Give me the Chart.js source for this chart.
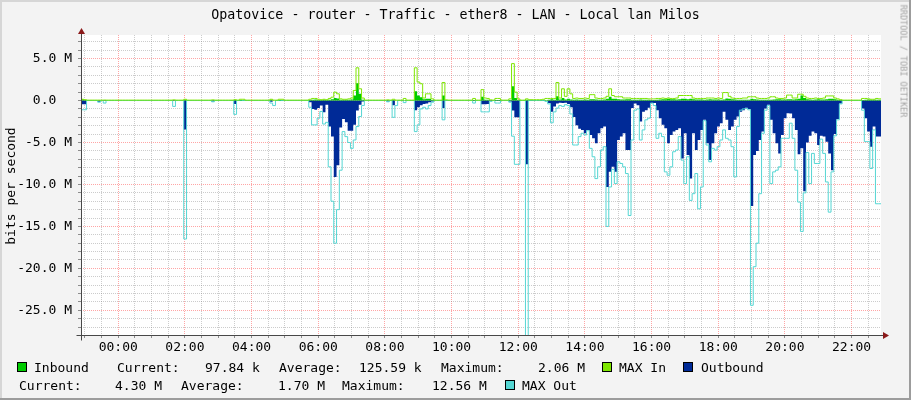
<!DOCTYPE html>
<html>
<head>
<meta charset="utf-8">
<title>Opatovice - router - Traffic - ether8</title>
<script src="https://cdn.jsdelivr.net/npm/chart.js@4.4.1/dist/chart.umd.min.js"></script>
<style>
  body { margin: 0; background: #f3f3f3; }
  #wrap { position: relative; width: 911px; height: 400px; overflow: hidden; background: #f3f3f3;
          font-family: "DejaVu Sans Mono", monospace; color: #000; }
  #c { position: absolute; left: 0; top: 0; }
  .t { position: absolute; font-size: 13px; line-height: 13px; white-space: pre; }
  .sw { position: absolute; width: 8px; height: 8px; border: 1px solid #000; }
  #title { position: absolute; left: 0; top: 8px; width: 911px; text-align: center; font-size: 13.3px; line-height: 13px; white-space: pre; }
  #ytitle { position: absolute; left: 10px; top: 186px; font-size: 13px; line-height: 13px; white-space: pre;
            transform: translate(-50%, -50%) rotate(-90deg); }
  #side { position: absolute; left: 903px; top: 61px; font-size: 8.5px; line-height: 9px; color: #a4a4a4; white-space: pre;
          transform: translate(-50%, -50%) rotate(90deg); }
  .bd { position: absolute; }
</style>
</head>
<body>
<div id="wrap">
  <canvas id="c" width="911" height="400"></canvas>
  <div class="bd" style="left:0;top:0;width:911px;height:2px;background:#d6d6d6"></div>
  <div class="bd" style="left:0;top:0;width:2px;height:400px;background:#d6d6d6"></div>
  <div class="bd" style="left:909px;top:0;width:2px;height:400px;background:#9c9c9c"></div>
  <div class="bd" style="left:0;top:398px;width:911px;height:2px;background:#9c9c9c"></div>
  <div id="title">Opatovice - router - Traffic - ether8 - LAN - Local lan Milos</div>
  <div id="ytitle">bits per second</div>
  <div id="side">RRDTOOL / TOBI OETIKER</div>

  <div class="sw" style="left:17px;top:362px;background:#00cc00"></div>
  <div class="t" style="left:34px;top:361px">Inbound</div>
  <div class="t" style="left:117px;top:361px">Current:</div>
  <div class="t" style="left:205px;top:361px">97.84 k</div>
  <div class="t" style="left:279px;top:361px">Average:</div>
  <div class="t" style="left:359px;top:361px">125.59 k</div>
  <div class="t" style="left:441px;top:361px">Maximum:</div>
  <div class="t" style="left:538px;top:361px">2.06 M</div>
  <div class="sw" style="left:602px;top:362px;background:#7ee600"></div>
  <div class="t" style="left:619px;top:361px">MAX In</div>
  <div class="sw" style="left:683px;top:362px;background:#002a97"></div>
  <div class="t" style="left:701px;top:361px">Outbound</div>

  <div class="t" style="left:19px;top:379px">Current:</div>
  <div class="t" style="left:115px;top:379px">4.30 M</div>
  <div class="t" style="left:181px;top:379px">Average:</div>
  <div class="t" style="left:278px;top:379px">1.70 M</div>
  <div class="t" style="left:342px;top:379px">Maximum:</div>
  <div class="t" style="left:432px;top:379px">12.56 M</div>
  <div class="sw" style="left:505px;top:380px;background:#55d6d3"></div>
  <div class="t" style="left:522px;top:379px">MAX Out</div>
</div>

<script>
// 5 minute samples, first one starts 22:53 the day before (hours relative to midnight)
const startHour = -67 / 60;
const stepHour = 5 / 60;

const xTickHours = [0, 2, 4, 6, 8, 10, 12, 14, 16, 18, 20, 22];
const xTickLabels = ['00:00', '02:00', '04:00', '06:00', '08:00', '10:00', '12:00', '14:00', '16:00', '18:00', '20:00', '22:00'];
const yTickValues = [5, 0, -5, -10, -15, -20, -25];
const yTickLabels = ['5.0 M', '0.0  ', '-5.0 M', '-10.0 M', '-15.0 M', '-20.0 M', '-25.0 M'];

// Mbit/s, one row per hour of samples
const inbound = [
  0.15, 0.05, 0.02, 0.02, 0.02, 0.02, 0.03, 0.02, 0.03, 0.02, 0.02, 0.02,
  0.02, 0.02, 0.02, 0.02, 0.02, 0.02, 0.02, 0.02, 0.02, 0.02, 0.02, 0.02,
  0.02, 0.02, 0.02, 0.02, 0.02, 0.02, 0.02, 0.02, 0.02, 0.04, 0.02, 0.02,
  0.02, 0.1, 0.02, 0.02, 0.02, 0.02, 0.02, 0.02, 0.02, 0.02, 0.02, 0.04,
  0.02, 0.02, 0.02, 0.02, 0.02, 0.02, 0.02, 0.06, 0.02, 0.05, 0.02, 0.02,
  0.02, 0.02, 0.02, 0.02, 0.02, 0.02, 0.02, 0.02, 0.08, 0.03, 0.02, 0.05,
  0.02, 0.02, 0.02, 0.02, 0.02, 0.02, 0.02, 0.02, 0.02, 0.02, 0.05, 0.1,
  0.12, 0.06, 0.05, 0.08, 0.05, 0.1, 0.15, 0.3, 0.25, 0.1, 0.08, 0.08,
  0.1, 0.12, 0.6, 2.06, 0.8, 0.1, 0.03, 0.02, 0.02, 0.02, 0.02, 0.02,
  0.02, 0.02, 0.04, 0.02, 0.06, 0.03, 0.02, 0.02, 0.05, 0.02, 0.02, 0.02,
  1.1, 0.6, 0.4, 0.15, 0.2, 0.2, 0.05, 0.02, 0.02, 0.02, 0.6, 0.03,
  0.02, 0.02, 0.02, 0.02, 0.02, 0.02, 0.02, 0.02, 0.02, 0.05, 0.02, 0.02,
  0.45, 0.1, 0.08, 0.03, 0.02, 0.05, 0.05, 0.02, 0.02, 0.02, 0.05, 1.7,
  0.3, 0.05, 0.02, 0.02, 0.08, 0.03, 0.03, 0.03, 0.03, 0.03, 0.04, 0.06,
  0.1, 0.15, 0.1, 0.5, 0.12, 0.3, 0.12, 0.2, 0.12, 0.1, 0.12, 0.1,
  0.1, 0.12, 0.1, 0.15, 0.15, 0.12, 0.1, 0.1, 0.12, 0.2, 0.45, 0.2,
  0.2, 0.15, 0.12, 0.12, 0.15, 0.15, 0.1, 0.08, 0.1, 0.12, 0.1, 0.1,
  0.08, 0.06, 0.06, 0.1, 0.12, 0.15, 0.15, 0.2, 0.15, 0.15, 0.12, 0.15,
  0.2, 0.2, 0.15, 0.2, 0.15, 0.12, 0.12, 0.12, 0.1, 0.12, 0.15, 0.12,
  0.12, 0.12, 0.1, 0.12, 0.25, 0.2, 0.15, 0.12, 0.1, 0.1, 0.08, 0.08,
  0.1, 0.2, 0.15, 0.12, 0.1, 0.08, 0.08, 0.08, 0.1, 0.12, 0.15, 0.15,
  0.12, 0.12, 0.15, 0.15, 0.12, 0.15, 0.2, 0.6, 0.3, 0.15, 0.12, 0.1,
  0.12, 0.15, 0.12, 0.12, 0.15, 0.2, 0.2, 0.15, 0.1, 0.05, 0.02, 0.02,
  0.02, 0.02, 0.02, 0.02, 0.02, 0.06, 0.1, 0.12, 0.1, 0.08, 0.1, 0.098
];

const maxIn = [
  0.15, 0.1, 0.05, 0.05, 0.05, 0.05, 0.05, 0.05, 0.06, 0.05, 0.05, 0.05,
  0.05, 0.05, 0.05, 0.05, 0.05, 0.05, 0.05, 0.05, 0.05, 0.05, 0.05, 0.05,
  0.05, 0.05, 0.05, 0.05, 0.05, 0.05, 0.05, 0.05, 0.05, 0.08, 0.05, 0.05,
  0.05, 0.15, 0.05, 0.05, 0.05, 0.05, 0.05, 0.05, 0.05, 0.05, 0.05, 0.08,
  0.05, 0.05, 0.05, 0.05, 0.05, 0.05, 0.05, 0.1, 0.05, 0.15, 0.15, 0.05,
  0.05, 0.05, 0.05, 0.05, 0.05, 0.05, 0.05, 0.05, 0.15, 0.05, 0.05, 0.15,
  0.15, 0.05, 0.05, 0.05, 0.05, 0.05, 0.05, 0.05, 0.05, 0.05, 0.15, 0.25,
  0.25, 0.15, 0.1, 0.15, 0.1, 0.25, 0.4, 1.0, 0.8, 0.2, 0.15, 0.15,
  0.2, 0.3, 1.2, 3.9, 1.4, 0.3, 0.05, 0.05, 0.05, 0.05, 0.05, 0.05,
  0.05, 0.05, 0.08, 0.05, 0.15, 0.05, 0.05, 0.05, 0.25, 0.05, 0.05, 0.05,
  3.9, 2.2, 2.0, 0.3, 0.8, 0.8, 0.2, 0.05, 0.05, 0.05, 2.15, 0.08,
  0.05, 0.05, 0.05, 0.05, 0.05, 0.05, 0.05, 0.05, 0.05, 0.25, 0.05, 0.05,
  1.3, 0.3, 0.25, 0.08, 0.05, 0.25, 0.25, 0.05, 0.05, 0.05, 0.2, 4.4,
  1.0, 0.2, 0.05, 0.05, 0.2, 0.1, 0.1, 0.1, 0.1, 0.1, 0.15, 0.25,
  0.25, 0.25, 0.25, 2.15, 0.3, 1.4, 0.5, 1.4, 0.8, 0.25, 0.3, 0.25,
  0.25, 0.3, 0.25, 0.7, 0.7, 0.3, 0.25, 0.25, 0.3, 0.5, 1.4, 0.6,
  0.45, 0.45, 0.45, 0.3, 0.3, 0.3, 0.25, 0.25, 0.25, 0.25, 0.25, 0.25,
  0.2, 0.2, 0.2, 0.25, 0.25, 0.3, 0.25, 0.3, 0.25, 0.25, 0.3, 0.6,
  0.6, 0.6, 0.6, 0.6, 0.3, 0.25, 0.25, 0.25, 0.25, 0.3, 0.3, 0.3,
  0.25, 0.3, 0.25, 0.95, 0.95, 0.5, 0.3, 0.25, 0.25, 0.25, 0.3, 0.3,
  0.45, 0.45, 0.45, 0.3, 0.25, 0.25, 0.25, 0.3, 0.45, 0.45, 0.3, 0.25,
  0.25, 0.3, 0.65, 0.65, 0.3, 0.3, 0.75, 0.75, 0.5, 0.3, 0.25, 0.25,
  0.3, 0.25, 0.25, 0.3, 0.55, 0.55, 0.55, 0.3, 0.2, 0.1, 0.05, 0.05,
  0.05, 0.05, 0.05, 0.05, 0.05, 0.25, 0.25, 0.2, 0.15, 0.15, 0.25, 0.2
];

const outbound = [
  0.45, 0.45, 0, 0, 0, 0, 0.15, 0, 0.05, 0, 0, 0,
  0, 0, 0, 0, 0, 0, 0, 0, 0, 0, 0, 0,
  0, 0, 0, 0, 0, 0, 0, 0, 0, 0.05, 0, 0,
  0, 3.45, 0, 0, 0, 0, 0, 0, 0, 0, 0, 0.1,
  0, 0, 0, 0, 0, 0, 0, 0.4, 0, 0, 0, 0,
  0, 0, 0, 0, 0, 0, 0, 0, 0.15, 0, 0, 0,
  0, 0, 0, 0, 0, 0, 0, 0, 0, 0, 0.2, 1.0,
  1.1, 0.9, 0.6, 1.4, 0.5, 3.1, 4.3, 9.1, 7.7, 3.2, 2.2, 2.6,
  3.6, 3.6, 2.9, 1.2, 0.5, 0.1, 0, 0, 0, 0, 0, 0,
  0, 0, 0.1, 0, 0.55, 0, 0, 0, 0, 0, 0, 0,
  1.15, 0.8, 0.55, 0.4, 0.35, 0.2, 0.1, 0, 0, 0, 0.9, 0,
  0, 0, 0, 0, 0, 0, 0, 0, 0, 0.05, 0, 0,
  0.45, 0.45, 0.4, 0.05, 0, 0.05, 0.05, 0, 0, 0, 0.1, 1.2,
  2.0, 2.0, 0, 0, 7.6, 0, 0, 0, 0, 0, 0, 0,
  0.3, 1.35, 0.7, 0.35, 0.25, 0.3, 0.25, 0.4, 0.8, 1.95, 2.95, 3.35,
  3.5, 3.9, 3.5, 4.1, 4.5, 5.1, 3.9, 3.3, 3.1, 10.3, 8.5, 7.9,
  8.5, 4.7, 4.3, 3.9, 5.9, 5.9, 0.9, 0.35, 0.55, 2.5, 1.35, 1.15,
  0.85, 0.3, 0.3, 1.15, 2.1, 2.9, 3.3, 5.1, 4.1, 3.7, 3.5, 3.3,
  6.9, 3.9, 6.5, 9.3, 3.9, 5.9, 4.7, 3.5, 2.3, 5.1, 7.1, 5.1,
  3.9, 3.1, 2.7, 1.35, 2.3, 3.5, 3.1, 2.3, 1.9, 1.35, 1.15, 0.85,
  1.0, 12.56, 6.5, 6.0, 4.7, 3.7, 0.95, 0.5, 2.3, 3.9, 5.1, 6.3,
  4.1, 2.1, 1.5, 1.55, 2.1, 3.5, 6.4, 5.7, 10.8, 5.0, 4.2, 3.7,
  3.9, 5.3, 4.2, 4.3, 4.9, 6.3, 8.3, 4.0, 2.2, 0.35, 0, 0,
  0, 0, 0, 0, 0, 0.95, 2.1, 3.7, 5.5, 3.1, 4.3, 4.3
];

const maxOut = [
  1.1, 1.1, 0, 0, 0, 0, 0.2, 0, 0.3, 0, 0, 0,
  0, 0, 0, 0, 0, 0, 0, 0, 0, 0, 0, 0,
  0, 0, 0, 0, 0, 0, 0, 0, 0, 0.7, 0, 0,
  0, 16.5, 0, 0, 0, 0, 0, 0, 0, 0, 0, 0.15,
  0, 0, 0, 0, 0, 0, 0, 1.65, 0, 0, 0, 0,
  0, 0, 0, 0, 0, 0, 0, 0, 0.3, 0.6, 0, 0,
  0, 0, 0, 0, 0, 0, 0, 0, 0, 0, 0.8, 2.9,
  2.9, 2.1, 1.3, 2.8, 2.6, 7.9, 12.0, 17.0, 13.0, 8.3, 3.7, 4.3,
  5.0, 5.7, 4.7, 3.1, 1.9, 0.6, 0, 0, 0, 0, 0, 0,
  0, 0, 0.15, 0, 2.0, 0.6, 0, 0, 0.25, 0, 0, 0,
  3.7, 2.9, 1.0, 0.8, 1.0, 0.6, 0.2, 0, 0, 0, 2.3, 0,
  0, 0, 0, 0, 0, 0, 0, 0, 0, 0.3, 0, 0,
  1.35, 1.35, 1.35, 0.1, 0, 0.3, 0.3, 0, 0, 0, 0.2, 4.25,
  7.6, 7.6, 0, 0, 32.0, 0, 0, 0, 0, 0, 0, 0.1,
  0.4, 2.65, 1.35, 0.9, 0.6, 0.7, 0.5, 0.6, 1.6, 5.3, 5.3, 4.3,
  3.9, 4.1, 3.6, 5.7, 6.7, 9.3, 7.9, 5.9, 5.5, 15.0, 10.3, 8.2,
  9.9, 7.3, 7.5, 7.9, 8.7, 13.7, 4.7, 1.15, 1.0, 4.7, 3.5, 2.3,
  2.1, 0.3, 0.6, 4.5, 3.9, 4.3, 8.5, 8.9, 7.9, 6.1, 5.9, 4.3,
  7.1, 9.9, 6.7, 11.9, 11.1, 8.7, 12.9, 10.3, 2.4, 5.3, 7.3, 5.7,
  5.9, 5.5, 4.7, 3.5, 4.5, 4.7, 5.5, 9.1, 3.1, 1.15, 1.0, 0.95,
  1.1, 24.4, 19.8, 17.0, 11.1, 3.9, 1.15, 0.6, 9.9, 8.5, 8.3, 7.9,
  4.5, 4.5, 4.5, 2.7, 4.5, 8.3, 12.1, 15.6, 11.0, 6.2, 9.9, 6.3,
  7.5, 7.5, 4.6, 6.3, 9.7, 13.3, 8.5, 4.2, 2.3, 0.4, 0, 0,
  0, 0, 0, 0, 0, 1.15, 4.9, 4.9, 8.1, 3.5, 12.3, 12.3
];

function points(values, sign) {
  const pts = values.map((v, i) => ({ x: startHour + i * stepHour, y: sign * v }));
  pts.push({ x: startHour + values.length * stepHour, y: sign * values[values.length - 1] });
  return pts;
}

const majorGrid = 'rgba(255, 40, 40, 0.42)';
const minorGrid = 'rgba(120, 120, 120, 0.38)';
const tickFont = { family: 'DejaVu Sans Mono', size: 13 };

const canvasBg = {
  id: 'canvasBg',
  beforeDraw(c) {
    const a = c.chartArea;
    c.ctx.save();
    c.ctx.fillStyle = '#ffffff';
    c.ctx.fillRect(a.left, a.top, a.right - a.left, a.bottom - a.top);
    c.ctx.restore();
  }
};

const rrdAxes = {
  id: 'rrdAxes',
  afterDraw(c) {
    const a = c.chartArea;
    const ctx = c.ctx;
    const x0 = Math.round(a.left) + 0.5;
    const y0 = Math.round(a.bottom) + 0.5;
    ctx.save();
    ctx.strokeStyle = '#484848';
    ctx.lineWidth = 1;
    ctx.beginPath();
    ctx.moveTo(x0, a.top - 4);
    ctx.lineTo(x0, y0 + 5);
    ctx.moveTo(x0 - 5, y0);
    ctx.lineTo(a.right + 4, y0);
    ctx.stroke();
    ctx.fillStyle = '#8b1a1a';
    ctx.beginPath();
    ctx.moveTo(x0 - 3.5, a.top - 1);
    ctx.lineTo(x0 + 3.5, a.top - 1);
    ctx.lineTo(x0, a.top - 7);
    ctx.closePath();
    ctx.fill();
    ctx.beginPath();
    ctx.moveTo(a.right + 2, y0 - 3.5);
    ctx.lineTo(a.right + 2, y0 + 3.5);
    ctx.lineTo(a.right + 8, y0);
    ctx.closePath();
    ctx.fill();
    ctx.restore();
  }
};

new Chart(document.getElementById('c'), {
  type: 'line',
  data: {
    datasets: [
      { label: 'MAX In', data: points(maxIn, 1), borderColor: '#7ee600', borderWidth: 1, fill: false, order: 1 },
      { label: 'Inbound', data: points(inbound, 1), borderColor: '#00cc00', backgroundColor: '#00cc00', borderWidth: 0, fill: 'origin', order: 2 },
      { label: 'MAX Out', data: points(maxOut, -1), borderColor: '#55d6d3', borderWidth: 1, fill: false, order: 3 },
      { label: 'Outbound', data: points(outbound, -1), borderColor: '#002a97', backgroundColor: '#002a97', borderWidth: 0, fill: 'origin', order: 4 }
    ]
  },
  options: {
    responsive: false,
    animation: false,
    events: [],
    layout: { padding: { top: 35, right: 30, left: 0, bottom: 0 } },
    elements: { point: { radius: 0 }, line: { stepped: 'before', tension: 0 } },
    plugins: { legend: { display: false }, tooltip: { enabled: false } },
    scales: {
      x: {
        type: 'linear',
        min: startHour,
        max: startHour + 24,
        afterFit(s) { s.height = 65; },
        afterBuildTicks(s) {
          const t = [];
          for (let h = -1; h <= 22.5; h += 0.5) t.push({ value: h });
          s.ticks = t;
        },
        grid: {
          color: (ctx) => (ctx.tick && ctx.tick.value % 2 === 0 ? majorGrid : minorGrid),
          lineWidth: 1,
          drawTicks: true,
          tickLength: 3,
          tickColor: '#8c8c8c',
          tickBorderDash: []
        },
        border: { display: false, dash: [1, 1] },
        ticks: {
          autoSkip: false,
          maxRotation: 0,
          padding: 2,
          color: '#000',
          font: tickFont,
          callback: (v) => {
            const k = xTickHours.indexOf(v);
            return k >= 0 ? xTickLabels[k] : '';
          }
        }
      },
      y: {
        type: 'linear',
        min: -27.94,
        max: 7.81,
        afterFit(s) { s.width = 81; },
        afterBuildTicks(s) {
          const t = [];
          for (let v = -27; v <= 7; v += 1) t.push({ value: v });
          s.ticks = t;
        },
        grid: {
          color: (ctx) => (ctx.tick && ctx.tick.value % 5 === 0 ? majorGrid : minorGrid),
          lineWidth: 1,
          drawTicks: true,
          tickLength: 3,
          tickColor: '#8c8c8c',
          tickBorderDash: []
        },
        border: { display: false, dash: [1, 1] },
        ticks: {
          autoSkip: false,
          padding: 6,
          color: '#000',
          font: tickFont,
          callback: (v) => {
            const k = yTickValues.indexOf(v);
            return k >= 0 ? yTickLabels[k] : '';
          }
        }
      }
    }
  },
  plugins: [canvasBg, rrdAxes]
});
</script>
</body>
</html>
